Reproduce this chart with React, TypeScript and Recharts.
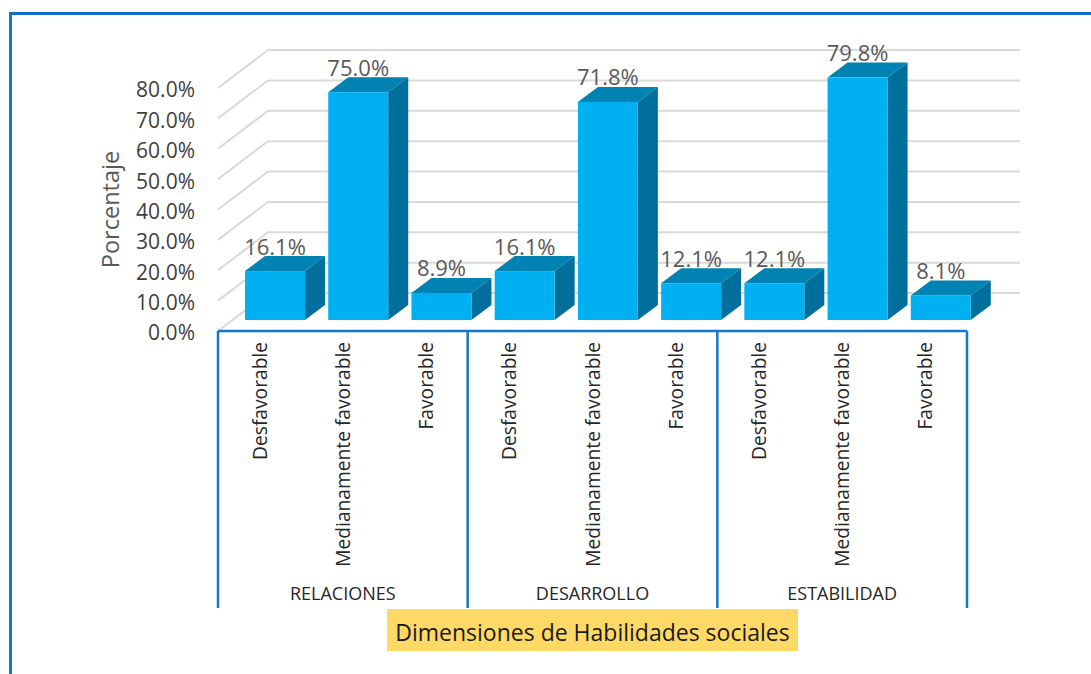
import { BarChart, Bar, XAxis, YAxis, CartesianGrid, LabelList } from 'recharts';

const levels = ['Desfavorable', 'Medianamente favorable', 'Favorable'];
const dimensions = ['RELACIONES', 'DESARROLLO', 'ESTABILIDAD'];
const relaciones = [16.1, 75.0, 8.9];
const desarrollo = [16.1, 71.8, 12.1];
const estabilidad = [12.1, 79.8, 8.1];
const yTicks = [0, 10, 20, 30, 40, 50, 60, 70, 80];

const chartData = [relaciones, desarrollo, estabilidad].flatMap((values, g) =>
  values.map((value, i) => ({ key: `${g}-${i}`, label: levels[i], group: dimensions[g], value }))
);

const FONT = '"Open Sans", sans-serif';
const BLUE = '#1478C8';
const PLOT_BOTTOM = 331;
const STEP = 749 / 9;

// bars stand a bit inside the floor, so they are pushed back from the front plane
const BAR_DX = 15;
const BAR_DY = -11;
const BOX_DX = 20;
const BOX_DY = -15;
const WALL_DX = 50;
const WALL_DY = -38;

// Fake 3D column
const BoxBar = ({ x, y, width, height }: any) => {
  const l = x + BAR_DX;
  const r = l + width;
  const t = y + BAR_DY;
  const b = t + height;
  return (
    <g>
      <polygon points={`${l},${t} ${r},${t} ${r + BOX_DX},${t + BOX_DY} ${l + BOX_DX},${t + BOX_DY}`} fill="#0082B2" />
      <polygon points={`${r},${t} ${r + BOX_DX},${t + BOX_DY} ${r + BOX_DX},${b + BOX_DY} ${r},${b}`} fill="#006F9B" />
      <rect x={l} y={t} width={width} height={height} fill="#00B0F0" />
    </g>
  );
};

// Floor/side wall diagonal plus the line along the back wall
const WallLine = ({ x1, x2, y1 }: any) => (
  <polyline
    points={`${x1},${y1} ${x1 + WALL_DX},${y1 + WALL_DY} ${x2 + 53},${y1 + WALL_DY}`}
    fill="none"
    stroke="#D9D9D9"
    strokeWidth={2}
  />
);

const ValueLabel = ({ x, y, width, value }: any) => (
  <text x={x + BAR_DX + width / 2} y={y + BAR_DY - 16.5} textAnchor="middle" fontFamily={FONT} fontSize={22} fill="#595959">
    {Number(value).toFixed(1)}%
  </text>
);

const LevelTick = ({ x, payload }: any) => (
  <text
    transform={`translate(${x + 7},342) rotate(-90)`}
    textAnchor="end"
    fontFamily={FONT}
    fontSize={19.2}
    fill="#262626"
  >
    {payload.value}
  </text>
);

const GroupTick = ({ x, index, payload }: any) => (
  <g>
    {index % 3 === 0 && <line x1={x - STEP / 2} x2={x - STEP / 2} y1={PLOT_BOTTOM} y2={608} stroke={BLUE} strokeWidth={2.5} />}
    {index === 8 && <line x1={x + STEP / 2} x2={x + STEP / 2} y1={PLOT_BOTTOM} y2={608} stroke={BLUE} strokeWidth={2.5} />}
    {index % 3 === 1 && (
      <text x={x} y={600} textAnchor="middle" fontFamily={FONT} fontSize={18} fill="#262626">
        {payload.value}
      </text>
    )}
  </g>
);

export default function App() {
  return (
    <div style={{ position: 'absolute', left: 0, top: 0, width: 1091, height: 674, background: '#fff', overflow: 'hidden' }}>
      {/* frame, only top and left show */}
      <div style={{ position: 'absolute', left: 9, top: 12, right: 0, bottom: 0, borderTop: '3px solid #0F70C0', borderLeft: '3px solid #1478C8' }} />

      <BarChart
        width={1091}
        height={674}
        data={chartData}
        margin={{ top: 88, right: 124, bottom: 5, left: 90 }}
        style={{ position: 'absolute', left: 0, top: 0 }}
      >
        <CartesianGrid vertical={false} horizontal={(props: any) => <WallLine key={props.key} {...props} />} />
        <XAxis
          xAxisId={0}
          dataKey="label"
          height={250}
          interval={0}
          tickLine={false}
          axisLine={{ stroke: BLUE, strokeWidth: 2.5 }}
          tick={<LevelTick />}
        />
        <XAxis
          xAxisId="group"
          dataKey="group"
          height={88}
          interval={0}
          tickLine={false}
          axisLine={false}
          tick={<GroupTick />}
        />
        <YAxis
          width={128}
          domain={[0, 80]}
          ticks={yTicks}
          interval={0}
          tickLine={false}
          axisLine={false}
          tickMargin={17}
          tickFormatter={(v: number) => `${v.toFixed(1)}%`}
          tick={{ fontFamily: FONT, fontSize: 21, fill: '#404040', dy: 2 }}
          label={{
            value: 'Porcentaje',
            angle: -90,
            position: 'insideLeft',
            offset: 21,
            style: { fontFamily: FONT, fontSize: 23.5, fill: '#595959', textAnchor: 'middle' },
          }}
        />
        <Bar dataKey="value" barSize={60} shape={<BoxBar />} isAnimationActive={false}>
          <LabelList dataKey="value" content={<ValueLabel />} />
        </Bar>
      </BarChart>

      <div
        style={{
          position: 'absolute',
          left: 387,
          top: 609,
          width: 411,
          height: 42,
          background: '#FFD966',
          color: '#1a1a1a',
          fontFamily: FONT,
          fontSize: 23,
          lineHeight: '46px',
          textAlign: 'center',
          whiteSpace: 'nowrap',
        }}
      >
        Dimensiones de Habilidades sociales
      </div>
    </div>
  );
}
